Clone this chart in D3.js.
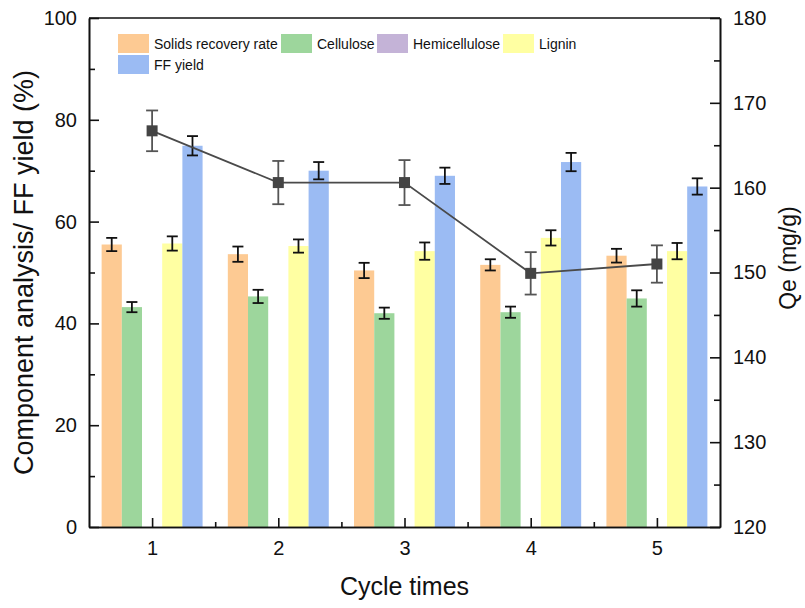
<!doctype html>
<html>
<head>
<meta charset="utf-8">
<style>
    body { margin: 0; background: #fff; }
    svg text { font-family: "Liberation Sans", Arial, sans-serif; fill: #111; }
    .axis path, .axis line { stroke: #111; stroke-width: 1.6; }
    .axis text { font-size: 20px; }
</style>
</head>
<body>
<svg id="chart" width="805" height="608"></svg>
<script src="https://cdnjs.cloudflare.com/ajax/libs/d3/7.8.5/d3.min.js"></script>
<script>
// values
var cycles = [1, 2, 3, 4, 5];
var solids = [55.5, 53.6, 50.4, 51.5, 53.3];
var solidsErr = [1.3, 1.5, 1.5, 1.1, 1.35];
var cellulose = [43.2, 45.3, 42.0, 42.2, 44.9];
var celluloseErr = [1.0, 1.3, 1.1, 1.1, 1.6];
var hemicellulose = [null, null, null, null, null];
var hemicelluloseErr = [null, null, null, null, null];
var lignin = [55.7, 55.2, 54.2, 56.8, 54.2];
var ligninErr = [1.4, 1.3, 1.7, 1.5, 1.6];
var ffYield = [74.9, 70.0, 69.0, 71.7, 66.9];
var ffYieldErr = [1.9, 1.7, 1.6, 1.8, 1.6];
var qe = [166.7, 160.6, 160.6, 149.9, 151.0];
var qeErr = [2.4, 2.55, 2.65, 2.5, 2.2];

var leftTicks = [0, 20, 40, 60, 80, 100];
var rightTicks = [120, 130, 140, 150, 160, 170, 180];

var series = [
    {name: 'Solids recovery rate', values: solids, err: solidsErr, color: '#fdca93'},
    {name: 'Cellulose', values: cellulose, err: celluloseErr, color: '#9dd69c'},
    {name: 'Hemicellulose', values: hemicellulose, err: hemicelluloseErr, color: '#c4b3d7'},
    {name: 'Lignin', values: lignin, err: ligninErr, color: '#ffffa2'},
    {name: 'FF yield', values: ffYield, err: ffYieldErr, color: '#9bbbf3'}
];

var pLeft = 89, pRight = 720, pTop = 18, pBottom = 527;
var svg = d3.select('#chart');

var x = d3.scaleLinear().domain([0.5, 5.5]).range([pLeft, pRight]);
var y = d3.scaleLinear().domain([0, 100]).range([pBottom, pTop]);
var y2 = d3.scaleLinear().domain([120, 180]).range([pBottom, pTop]);

var barW = 0.16;

// bars
series.forEach(function(s, i) {
    var g = svg.append('g');
    cycles.forEach(function(c, j) {
        var v = s.values[j];
        if (v == null) return;
        var x0 = x(c - 0.4 + i * barW);
        var x1 = x(c - 0.4 + (i + 1) * barW);
        g.append('rect')
            .attr('x', x0).attr('width', x1 - x0)
            .attr('y', y(v)).attr('height', y(0) - y(v))
            .attr('fill', s.color);
        var cx = (x0 + x1) / 2;
        var e = s.err[j];
        g.append('line').attr('x1', cx).attr('x2', cx)
            .attr('y1', y(v - e)).attr('y2', y(v + e))
            .attr('stroke', '#111').attr('stroke-width', 1.8);
        [v - e, v + e].forEach(function(t) {
            g.append('line').attr('x1', cx - 5.5).attr('x2', cx + 5.5)
                .attr('y1', y(t)).attr('y2', y(t))
                .attr('stroke', '#111').attr('stroke-width', 1.8);
        });
    });
});

// Qe line
var line = d3.line().x(function(d, j) { return x(cycles[j]); }).y(function(d) { return y2(d); });
svg.append('path').attr('d', line(qe))
    .attr('fill', 'none').attr('stroke', '#4a4a4a').attr('stroke-width', 1.8);

cycles.forEach(function(c, j) {
    var cx = x(c), v = qe[j], e = qeErr[j];
    svg.append('line').attr('x1', cx).attr('x2', cx)
        .attr('y1', y2(v - e)).attr('y2', y2(v + e))
        .attr('stroke', '#555').attr('stroke-width', 1.8);
    [v - e, v + e].forEach(function(t) {
        svg.append('line').attr('x1', cx - 6).attr('x2', cx + 6)
            .attr('y1', y2(t)).attr('y2', y2(t))
            .attr('stroke', '#555').attr('stroke-width', 1.8);
    });
    svg.append('rect').attr('x', cx - 5.5).attr('y', y2(v) - 5.5)
        .attr('width', 11).attr('height', 11).attr('fill', '#444');
});

// axes
var halfTicks = [1.5, 2.5, 3.5, 4.5];
svg.append('g').attr('class', 'axis').attr('transform', 'translate(0,' + pBottom + ')')
    .call(d3.axisBottom(x).tickValues(cycles).tickFormat(d3.format('d')).tickSize(-9).tickPadding(14).tickSizeOuter(0));
svg.append('g').attr('class', 'axis').attr('transform', 'translate(0,' + pBottom + ')')
    .call(d3.axisBottom(x).tickValues(halfTicks).tickSize(-5).tickFormat('').tickSizeOuter(0));

svg.append('g').attr('class', 'axis').attr('transform', 'translate(' + pLeft + ',0)')
    .call(d3.axisLeft(y).tickValues(leftTicks).tickSize(-10).tickPadding(12).tickSizeOuter(0));
svg.append('g').attr('class', 'axis').attr('transform', 'translate(' + pLeft + ',0)')
    .call(d3.axisLeft(y).tickValues([10, 30, 50, 70, 90]).tickSize(-6).tickFormat('').tickSizeOuter(0));

svg.append('g').attr('class', 'axis').attr('transform', 'translate(' + pRight + ',0)')
    .call(d3.axisRight(y2).tickValues(rightTicks).tickSize(-10).tickPadding(13).tickSizeOuter(0));
svg.append('g').attr('class', 'axis').attr('transform', 'translate(' + pRight + ',0)')
    .call(d3.axisRight(y2).tickValues([125, 135, 145, 155, 165, 175]).tickSize(-6).tickFormat('').tickSizeOuter(0));

svg.append('line').attr('x1', pLeft).attr('x2', pRight).attr('y1', pTop).attr('y2', pTop)
    .attr('stroke', '#111').attr('stroke-width', 1.6);

// titles
svg.append('text').attr('x', (pLeft + pRight) / 2).attr('y', 595)
    .attr('text-anchor', 'middle').style('font-size', '25px').text('Cycle times');
svg.append('text').attr('transform', 'translate(33,' + (pBottom + pTop) / 2 + ') rotate(-90)')
    .attr('text-anchor', 'middle').style('font-size', '27px').text('Component analysis/ FF yield (%)');
svg.append('text').attr('transform', 'translate(796,258) rotate(-90)')
    .attr('text-anchor', 'middle').style('font-size', '23px').text('Qe (mg/g)');

// legend
var legendPos = [[118, 34], [281, 34], [377, 34], [503, 34], [118, 55]];
series.forEach(function(s, i) {
    var p = legendPos[i];
    svg.append('rect').attr('x', p[0]).attr('y', p[1]).attr('width', 31).attr('height', 19)
        .attr('fill', s.color);
    svg.append('text').attr('x', p[0] + 36).attr('y', p[1] + 15)
        .style('font-size', '14px').text(s.name);
});
</script>
</body>
</html>
